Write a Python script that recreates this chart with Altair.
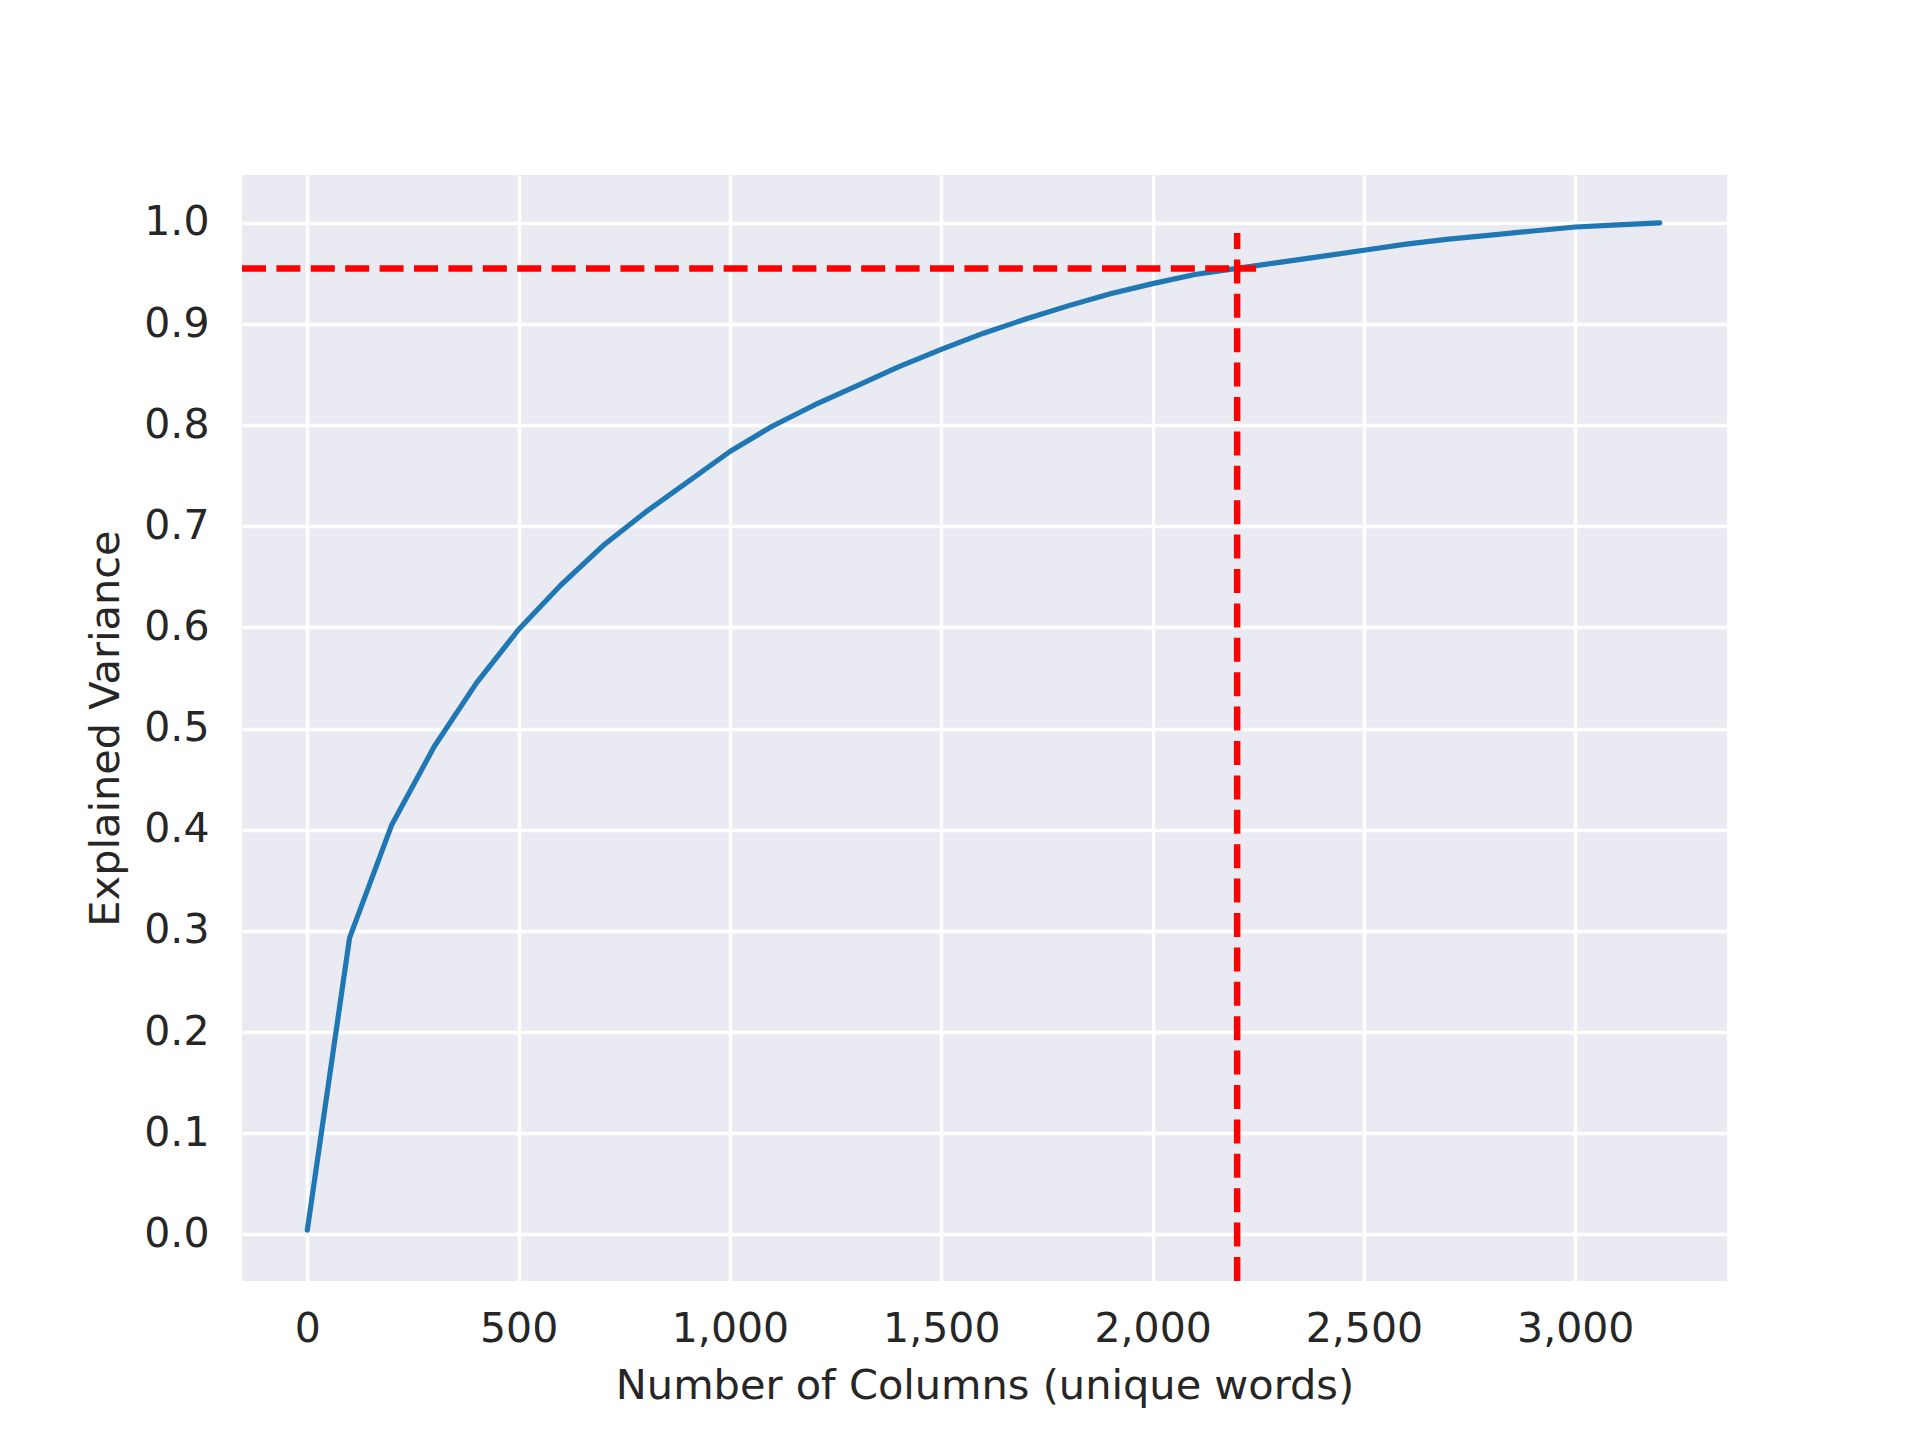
import altair as alt
import pandas as pd

# Curve data
n_columns = [0, 100, 200, 300, 400, 500, 600, 700, 800, 900, 1000, 1100, 1200,
             1300, 1400, 1500, 1600, 1700, 1800, 1900, 2000, 2100, 2200, 2300,
             2400, 2500, 2600, 2700, 2800, 2900, 3000, 3100, 3200]
explained = [0.004, 0.293, 0.405, 0.482, 0.545, 0.598, 0.642, 0.681, 0.714,
             0.744, 0.774, 0.799, 0.820, 0.839, 0.858, 0.875, 0.891, 0.905,
             0.918, 0.930, 0.940, 0.949, 0.955, 0.961, 0.967, 0.973, 0.979,
             0.984, 0.988, 0.992, 0.996, 0.998, 1.000]

# Reference lines
h_line_y = [0.955]
h_line_x_start = [-154.5]
h_line_x_end = [2245]
v_line_x = [2200]
v_line_y_start = [-0.0462]
v_line_y_end = [0.99]

x_ticks = [0, 500, 1000, 1500, 2000, 2500, 3000]
y_ticks = [0.0, 0.1, 0.2, 0.3, 0.4, 0.5, 0.6, 0.7, 0.8, 0.9, 1.0]

x_domain = [-154.5, 3359]
y_domain = [-0.0462, 1.0474]

curve_df = pd.DataFrame({"cols": n_columns, "var": explained})
h_df = pd.DataFrame({"y": h_line_y, "x": h_line_x_start, "x2": h_line_x_end})
v_df = pd.DataFrame({"x": v_line_x, "y": v_line_y_start, "y2": v_line_y_end})

TEXT = "#262626"
FONT = "DejaVu Sans"

x_scale = alt.Scale(domain=x_domain, nice=False, zero=False)
y_scale = alt.Scale(domain=y_domain, nice=False, zero=False)

x_axis = alt.Axis(
    title="Number of Columns (unique words)",
    values=x_ticks, format=",.0f", grid=True, gridColor="white", gridWidth=3.4,
    ticks=False, domain=False, labelFontSize=41, labelColor=TEXT, labelFont=FONT,
    labelPadding=28, titleFontSize=41.5, titleColor=TEXT, titleFont=FONT,
    titleFontWeight="normal", titleBaseline="alphabetic", titleY=117,
    titleX=742.5,
)
y_axis = alt.Axis(
    title="Explained Variance",
    values=y_ticks, format=".1f", grid=True, gridColor="white", gridWidth=3.4,
    ticks=False, domain=False, labelFontSize=41, labelColor=TEXT, labelFont=FONT,
    labelPadding=33, titleFontSize=41.5, titleColor=TEXT, titleFont=FONT,
    titleFontWeight="normal", titleBaseline="alphabetic", titleX=-124,
    titleY=553, titleAngle=270,
)

curve = alt.Chart(curve_df).mark_line(
    color="#1f77b4", strokeWidth=5.2, strokeCap="round", strokeJoin="round"
).encode(
    x=alt.X("cols:Q", scale=x_scale, axis=x_axis),
    y=alt.Y("var:Q", scale=y_scale, axis=y_axis),
)

hline = alt.Chart(h_df).mark_rule(
    color="#FF0000", strokeWidth=6.5, strokeDash=[24, 10.4]
).encode(
    x=alt.X("x:Q", scale=x_scale),
    x2="x2:Q",
    y=alt.Y("y:Q", scale=y_scale),
)

vline = alt.Chart(v_df).mark_rule(
    color="#FF0000", strokeWidth=6.5, strokeDash=[24, 10.4]
).encode(
    x=alt.X("x:Q", scale=x_scale),
    y=alt.Y("y:Q", scale=y_scale),
    y2="y2:Q",
)

chart = alt.layer(curve, hline, vline).properties(
    width=1485,
    height=1106,
    autosize=alt.AutoSizeParams(type="none"),
    padding={"left": 234, "top": 167, "right": 185, "bottom": 151},
    background="white",
).configure_view(
    fill="#EAEAF2", strokeWidth=0
)

chart.save("out.html", embed_options={"renderer": "svg", "actions": False})
